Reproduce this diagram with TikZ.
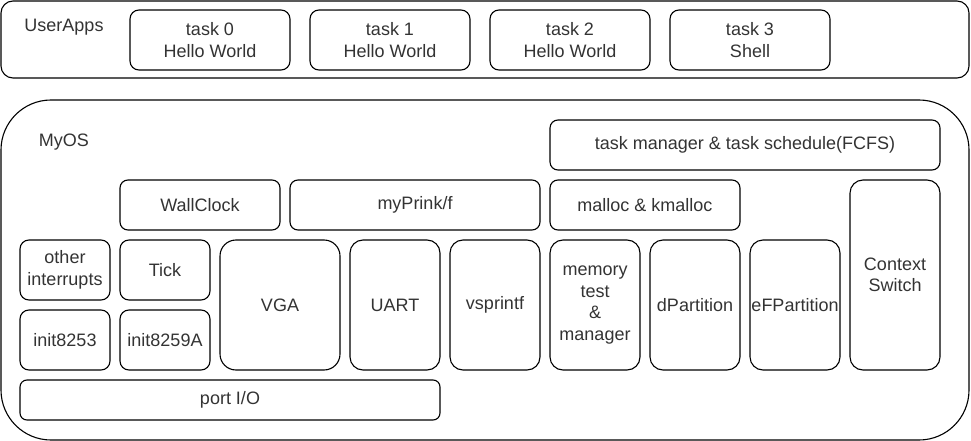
\documentclass[tikz,border=0pt]{standalone}
\usepackage{fontspec}
\setmainfont{Liberation Sans}
\usetikzlibrary{positioning}
\tikzset{
  box/.style={draw,rounded corners=9pt,align=center,inner sep=0pt,outer sep=0pt,
    line width=1.1pt,minimum width=90pt,minimum height=60pt,text=black!80,
    font=\fontsize{18}{21.6}\selectfont},
  tall/.style={box,minimum height=130pt,rounded corners=13pt},
  wide/.style={box,minimum height=50pt,rounded corners=8pt},
  outer/.style={draw,line width=1.1pt,inner sep=0pt,outer sep=0pt,anchor=north west},
  lbl/.style={text=black!80,font=\fontsize{18}{21.6}\selectfont},
}
\begin{document}
\begin{tikzpicture}[x=1pt,y=-1pt,node distance=10pt]
\useasboundingbox (0,0) rectangle (971,441);

% user space
\node[outer,rounded corners=12pt,minimum width=968pt,minimum height=77pt] (userapps) at (1,1) {};
\node[lbl] (userappsl) at (64,27) {UserApps};
\node[box,minimum width=160pt,anchor=north west] (t0) at (130,10) {task 0\\Hello World};
\node[box,minimum width=160pt,right=20pt of t0] (t1) {task 1\\Hello World};
\node[box,minimum width=160pt,right=20pt of t1] (t2) {task 2\\Hello World};
\node[box,minimum width=160pt,right=20pt of t2] (t3) {task 3\\Shell};

% kernel
\node[outer,rounded corners=50pt,minimum width=968pt,minimum height=340pt] (myos) at (1,100) {};
\node[lbl] (myosl) at (64,142) {MyOS};
\node[wide,minimum width=390pt,anchor=north west] (sched) at (550,120) {task manager \& task schedule(FCFS)};
\node[wide,minimum width=160pt,anchor=north west] (wallclk) at (120,180) {WallClock};
\node[wide,minimum width=250pt,right=of wallclk] (printk) {myPrink/f};
\node[wide,minimum width=190pt,right=of printk] (malloc) {malloc \& kmalloc};
\node[box,minimum height=190pt,rounded corners=13pt,below=of sched.south east,anchor=north east] (ctxsw) {Context\\Switch};

\node[box,anchor=north west] (otherint) at (20,240) {other\\interrupts};
\node[box,right=of otherint] (tick) {Tick};
\node[box,below=of otherint] (init53) {init8253};
\node[box,below=of tick] (init59) {init8259A};
\node[tall,minimum width=120pt,rounded corners=16pt,right=of tick.north east,anchor=north west] (vga) {VGA};
\node[tall,right=of vga] (uart) {UART};
\node[tall,right=of uart] (vsp) {vsprintf};
\node[tall,right=of vsp] (mem) {memory\\test\\\&\\manager};
\node[tall,right=of mem] (dpart) {dPartition};
\node[tall,right=of dpart] (efpart) {eFPartition};
\node[box,minimum width=420pt,minimum height=40pt,rounded corners=7pt,below=of init53.south west,anchor=north west] (portio) {port I/O};

\end{tikzpicture}
\end{document}
